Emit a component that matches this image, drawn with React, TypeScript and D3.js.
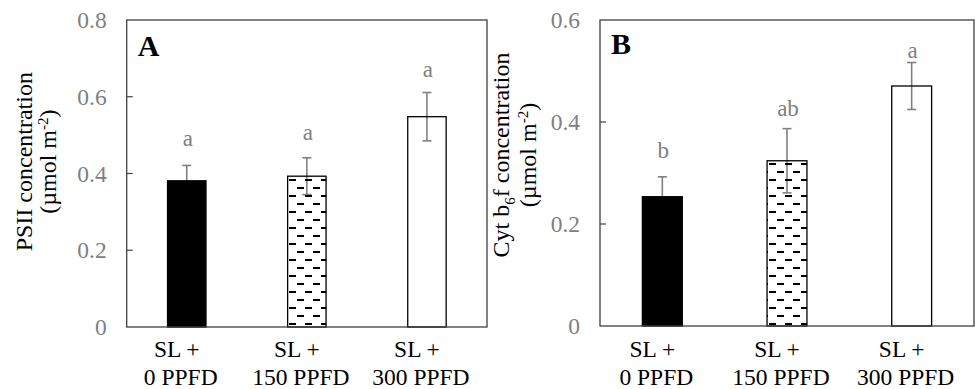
import React from "react";
import * as d3 from "d3";

const categories = ["0", "150", "300"];
const line1Labels = ["SL +", "SL +", "SL +"];
const line2Labels = ["0 PPFD", "150 PPFD", "300 PPFD"];
const fills = ["solid", "pattern", "open"];

const psiiValues = [0.381, 0.393, 0.548];
const psiiErrors = [0.04, 0.048, 0.063];
const psiiLetters = ["a", "a", "a"];
const psiiLetterPos = [0.472, 0.487, 0.651];
const psiiTicks = [0, 0.2, 0.4, 0.6, 0.8];

const cytValues = [0.2535, 0.324, 0.4706];
const cytErrors = [0.039, 0.063, 0.046];
const cytLetters = ["b", "ab", "a"];
const cytLetterPos = [0.329, 0.412, 0.525];
const cytTicks = [0, 0.2, 0.4, 0.6];

const FONT = "'Liberation Serif', 'Times New Roman', serif";
const GRAY = "#808080";

type PanelProps = {
  left: number; right: number; top: number; bottom: number;
  yMax: number; ticks: number[]; values: number[]; errors: number[];
  letters: string[]; letterPos: number[]; tag: string; tagBaseline: number;
  titleLines: React.ReactNode[]; titleX: number[]; titleCenterY: number;
};

function Panel(p: PanelProps) {
  const x = d3.scaleBand<string>().domain(categories).range([p.left, p.right]).padding(0);
  const y = d3.scaleLinear().domain([0, p.yMax]).range([p.bottom, p.top]);
  const bw = x.bandwidth() * 0.32;
  const cx = (c: string) => (x(c) as number) + x.bandwidth() / 2;
  return (
    <g>
      {/* error bars behind bars */}
      {categories.map((c, i) => {
        const hi = y(p.values[i] + p.errors[i]);
        const lo = y(p.values[i] - p.errors[i]);
        const xc = cx(c);
        return (
          <g key={"e" + c} stroke={GRAY} strokeWidth={1.6}>
            <line x1={xc} x2={xc} y1={hi} y2={lo} />
            <line x1={xc - 4.5} x2={xc + 4.5} y1={hi} y2={hi} />
            <line x1={xc - 4.5} x2={xc + 4.5} y1={lo} y2={lo} />
          </g>
        );
      })}
      {categories.map((c, i) => {
        const f = fills[i];
        return (
          <rect
            key={"b" + c}
            x={cx(c) - bw / 2}
            y={y(p.values[i])}
            width={bw}
            height={p.bottom - y(p.values[i])}
            fill={f === "solid" ? "#000" : f === "pattern" ? "url(#dashPat)" : "none"}
            stroke="#000"
            strokeWidth={1.3}
          />
        );
      })}
      {/* frame */}
      <rect x={p.left} y={p.top} width={p.right - p.left} height={p.bottom - p.top}
        fill="none" stroke="#404040" strokeWidth={1.3} />
      {/* ticks */}
      {p.ticks.map((t) => (
        <g key={"t" + t}>
          {t > 0 && t < p.yMax && (
            <line x1={p.left} x2={p.left + 6} y1={y(t)} y2={y(t)} stroke="#404040" strokeWidth={1.2} />
          )}
          <text x={p.left - 20} y={y(t)} dy="0.35em" textAnchor="end" fill={GRAY}
            fontFamily={FONT} fontSize={23.5}>
            {t === 0 ? "0" : d3.format(".1f")(t)}
          </text>
        </g>
      ))}
      {/* letters */}
      {categories.map((c, i) => (
        <text key={"l" + c} x={cx(c) + 1} y={y(p.letterPos[i])} textAnchor="middle"
          fill={GRAY} fontFamily={FONT} fontSize={23}>
          {p.letters[i]}
        </text>
      ))}
      {/* category labels */}
      {categories.map((c, i) => (
        <g key={"c" + c} fontFamily={FONT} fontSize={23.5} fill="#000" textAnchor="middle">
          <text x={cx(c) - 10} y={357}>{line1Labels[i]}</text>
          <text x={cx(c) - 6} y={385}>{line2Labels[i]}</text>
        </g>
      ))}
      <text x={p.left + 11} y={p.tagBaseline} fontFamily={FONT} fontSize={30} fontWeight="bold">
        {p.tag}
      </text>
      {p.titleLines.map((ln, i) => (
        <text key={"tt" + i} transform={`translate(${p.titleX[i]},${p.titleCenterY}) rotate(-90)`}
          textAnchor="middle" fontFamily={FONT} fontSize={24} fill="#000">
          {ln}
        </text>
      ))}
    </g>
  );
}

export default function App() {
  return (
    <svg width={975} height={389} style={{ position: "absolute", left: 0, top: 0, background: "#fff" }}>
      <defs>
        <pattern id="dashPat" patternUnits="userSpaceOnUse" width={16} height={16} x={0} y={3}>
          <rect x={1} y={0} width={7} height={2} fill="#000" />
          <rect x={9} y={8} width={7} height={2} fill="#000" />
        </pattern>
      </defs>
      <rect width={975} height={389} fill="#fff" />
      <Panel
        left={126.7} right={487} top={20} bottom={327}
        yMax={0.8} ticks={psiiTicks} values={psiiValues} errors={psiiErrors}
        letters={psiiLetters} letterPos={psiiLetterPos} tag="A" tagBaseline={56}
        titleLines={[
          <tspan>PSII concentration</tspan>,
          <>
            <tspan>(µmol m</tspan>
            <tspan dy={-8} fontSize={15}>-2</tspan>
            <tspan dy={8}>)</tspan>
          </>,
        ]}
        titleX={[32, 56]} titleCenterY={161.7}
      />
      <Panel
        left={600} right={974} top={20} bottom={326}
        yMax={0.6} ticks={cytTicks} values={cytValues} errors={cytErrors}
        letters={cytLetters} letterPos={cytLetterPos} tag="B" tagBaseline={54}
        titleLines={[
          <>
            <tspan>Cyt b</tspan>
            <tspan dy={6} fontSize={15}>6</tspan>
            <tspan dy={-6}>f concentration</tspan>
          </>,
          <>
            <tspan>(µmol m</tspan>
            <tspan dy={-8} fontSize={15}>-2</tspan>
            <tspan dy={8}>)</tspan>
          </>,
        ]}
        titleX={[508.5, 536]} titleCenterY={155}
      />
    </svg>
  );
}
